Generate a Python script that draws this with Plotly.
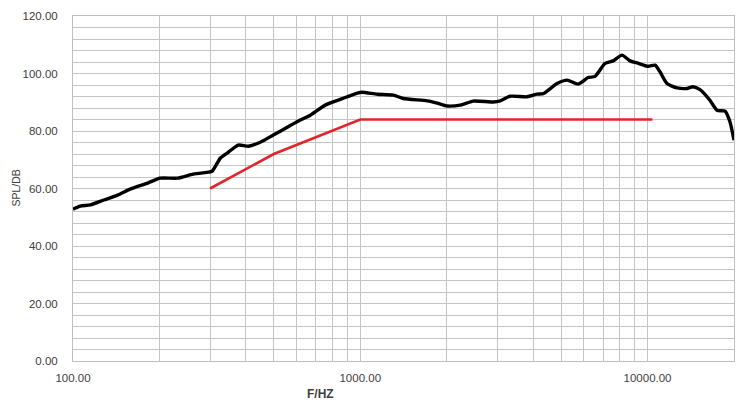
import plotly.graph_objects as go

# Measured response (black)
freq_hz = [100, 106, 115, 128, 143, 158, 182, 201, 231, 262, 296, 305, 326, 347, 376, 408,
           449, 498, 557, 618, 670, 755, 852, 977, 1016, 1146, 1303, 1412, 1710, 1853, 2008,
           2228, 2472, 2902, 3069, 3324, 3808, 4126, 4333, 4842, 5248, 5731, 6211, 6566,
           7114, 7586, 8150, 8690, 9189, 10040, 10620, 11050, 11690, 12670, 13720, 14390,
           15230, 16490, 17450, 18620, 19360, 20000]
spl_db = [52.8, 53.9, 54.3, 56.0, 57.7, 59.8, 61.9, 63.6, 63.6, 65.0, 65.7, 66.0, 70.6, 72.6,
          75.1, 74.7, 76.1, 78.6, 81.3, 83.8, 85.5, 89.0, 91.0, 93.2, 93.5, 92.8, 92.5, 91.3,
          90.5, 89.7, 88.7, 89.0, 90.4, 90.1, 90.5, 92.1, 91.9, 92.8, 93.0, 96.5, 97.7, 96.3,
          98.6, 99.0, 103.5, 104.4, 106.4, 104.4, 103.7, 102.5, 102.9, 100.6, 96.5, 95.0,
          94.8, 95.4, 94.4, 90.7, 87.2, 86.9, 83.2, 76.8]

# Target / limit line (red)
limit_freq_hz = [300, 500, 1000, 10400]
limit_db = [60.0, 72.0, 84.0, 84.0]

# Axis ticks
x_grid_vals = [m * d for d in (100, 1000, 10000) for m in range(1, 10)] + [20000]
x_label_vals = [100, 1000, 10000]
y_grid_vals = list(range(0, 121, 4))
y_label_vals = list(range(0, 121, 20))

x_text = [f"{v:.2f}" if v in x_label_vals else "" for v in x_grid_vals]
y_text = [f"{v:.2f}" if v in y_label_vals else "" for v in y_grid_vals]

grid_c = "#c4c4c4"
font_c = "#404040"
fam = "Liberation Sans, Arial, sans-serif"

fig = go.Figure()
fig.add_trace(go.Scatter(x=freq_hz, y=spl_db, mode="lines",
                         line=dict(color="#000000", width=3.4, shape="spline", smoothing=0.6),
                         showlegend=False, hoverinfo="skip"))
fig.add_trace(go.Scatter(x=limit_freq_hz, y=limit_db, mode="lines",
                         line=dict(color="#e3242b", width=2.6),
                         showlegend=False, hoverinfo="skip"))

# the page body adds an 8px offset, so the figure is sized to fit the window
fig.update_layout(
    width=742, height=397,
    margin=dict(l=65, r=16, t=8, b=44, autoexpand=False),
    paper_bgcolor="white", plot_bgcolor="white",
    font=dict(family=fam, size=11.5, color=font_c),
    xaxis=dict(type="log", range=[2, 4.30103], tickmode="array",
               tickvals=x_grid_vals, ticktext=x_text,
               showgrid=True, gridcolor=grid_c, gridwidth=1,
               showline=True, linecolor="#bfbfbf", linewidth=1, mirror=True,
               ticks="outside", ticklen=6, tickcolor="rgba(0,0,0,0)",
               zeroline=False, tickfont=dict(family=fam, size=11.5, color=font_c)),
    yaxis=dict(range=[0, 120], tickmode="array",
               tickvals=y_grid_vals, ticktext=y_text,
               showgrid=True, gridcolor=grid_c, gridwidth=1,
               showline=True, linecolor="#bfbfbf", linewidth=1, mirror=True,
               ticks="outside", ticklen=12, tickcolor="rgba(0,0,0,0)",
               zeroline=False, tickfont=dict(family=fam, size=11.5, color=font_c)),
    annotations=[
        dict(text="<b>F/HZ</b>", xref="paper", yref="paper", x=0.375, y=-0.097,
             xanchor="center", yanchor="middle", showarrow=False,
             font=dict(family=fam, size=12, color=font_c)),
        dict(text="SPL/DB", xref="paper", yref="paper", x=-0.0877, y=0.5,
             xanchor="center", yanchor="middle", textangle=-90, showarrow=False,
             borderpad=0, font=dict(family=fam, size=10.5, color=font_c)),
    ],
)

fig.write_html("out.html")
